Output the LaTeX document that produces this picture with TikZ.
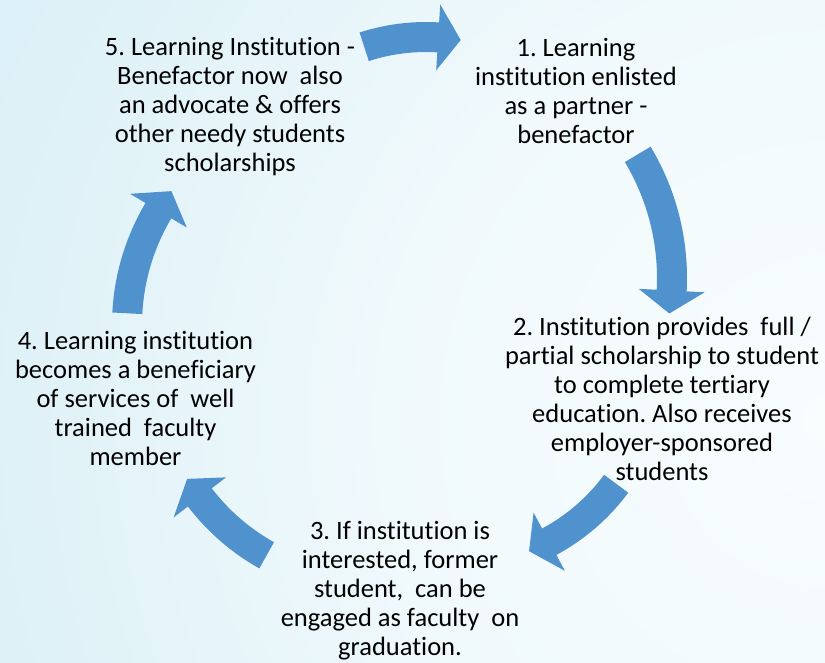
\documentclass[tikz,border=0pt]{standalone}
\usepackage{fontspec}
\setmainfont{Carlito}[Ligatures=NoCommon]

\definecolor{arrowblue}{RGB}{79,146,206}
\definecolor{bgA}{RGB}{248,253,254}
\definecolor{bgB}{RGB}{240,249,252}
\definecolor{bgC}{RGB}{221,241,247}
\definecolor{bgD}{RGB}{205,235,243}
\pgfdeclareradialshading{backshade}{\pgfpoint{0bp}{0bp}}{color(0bp)=(bgA); color(12bp)=(bgB); color(23bp)=(bgC); color(50bp)=(bgD)}

% curved block arrow: centre, radius, tail angle, head base angle, tip angle
\newcommand{\cyclearrow}[5]{%
  \pgfmathsetmacro\arrout{#2+15}%
  \pgfmathsetmacro\arrin{#2-15}%
  \pgfmathsetmacro\headout{#2+33}%
  \pgfmathsetmacro\headin{#2-33}%
  \fill[arrowblue, shift={(#1)}] (#3:\arrout) arc[start angle=#3, end angle=#4, radius=\arrout]
    -- (#4:\headout) -- (#5:#2) -- (#4:\headin) -- (#4:\arrin)
    arc[start angle=#4, end angle=#3, radius=\arrin] -- cycle;}

\frenchspacing
\begin{document}
\begin{tikzpicture}[x=1pt, y=-1pt]
\tikzset{stage/.style={align=center, inner sep=0pt, font=\fontsize{26.5}{29}\selectfont}}
\useasboundingbox (0,0) rectangle (825,662);
\begin{scope}
\clip (0,0) rectangle (825,662);
\shade[shading=backshade] (-100,-510) rectangle (1760,1350);
\end{scope}

% texts
\node[stage] (T1) at (576,91) {1. Learning\\institution enlisted\\as a partner -\\benefactor};
\node[stage] (T2) at (662,399) {2. Institution provides\ \ full /\\partial scholarship to student\\to complete tertiary\\education. Also receives\\employer-sponsored\\students};
\node[stage] (T3) at (400,590.5) {3. If institution is\\interested, former\\student,\ \ can be\\engaged as faculty\ \ on\\graduation.};
\node[stage] (T4) at (135.5,398) {4. Learning institution\\becomes a beneficiary\\of services of\ \ well\\trained\ \ faculty\\member};
\node[stage] (T5) at (230,107) {5. Learning Institution -\\Benefactor now\ \ also\\an advocate \& offers\\other needy students\\scholarships};

% arrows
\coordinate (c51) at (426,237);
\coordinate (c12) at (432,278);
\coordinate (c23) at (453,363);
\coordinate (c34) at (373,365);
\coordinate (c45) at (351,325);
\cyclearrow{c51}{200}{-108}{-86.5}{-80}
\cyclearrow{c12}{240}{-31}{3}{8.5}
\cyclearrow{c23}{203}{36.5}{61.7}{68}
\cyclearrow{c34}{218}{119.2}{142.6}{148.5}
\cyclearrow{c45}{224}{183}{210.7}{216.7}
\end{tikzpicture}
\end{document}
